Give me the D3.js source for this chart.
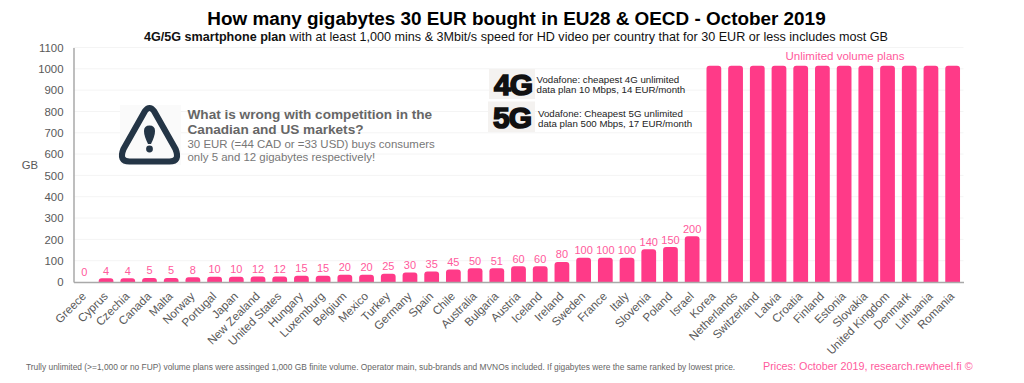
<!DOCTYPE html>
<html>
<head>
<meta charset="utf-8">
<script src="https://cdn.jsdelivr.net/npm/d3@7"></script>
<style>
  html, body { margin: 0; padding: 0; background: #fff; }
  svg { display: block; }
  text { font-family: "Liberation Sans", Arial, sans-serif; }
</style>
</head>
<body>
<div id="chart"></div>
<script>
const countries = ["Greece", "Cyprus", "Czechia", "Canada", "Malta", "Norway", "Portugal", "Japan", "New Zealand",
    "United States", "Hungary", "Luxemburg", "Belgium", "Mexico", "Turkey", "Germany", "Spain", "Chile", "Australia",
    "Bulgaria", "Austria", "Iceland", "Ireland", "Sweden", "France", "Italy", "Slovenia", "Poland", "Israel", "Korea",
    "Netherlands", "Switzerland", "Latvia", "Croatia", "Finland", "Estonia", "Slovakia", "United Kingdom", "Denmark",
    "Lithuania", "Romania"];
const gigabytes = [0, 4, 4, 5, 5, 8, 10, 10, 12, 12, 15, 15, 20, 20, 25, 30, 35, 45, 50, 51, 60, 60, 80, 100, 100, 100,
    140, 150, 200, 1000, 1000, 1000, 1000, 1000, 1000, 1000, 1000, 1000, 1000, 1000, 1000];
const yTicks = [0, 100, 200, 300, 400, 500, 600, 700, 800, 900, 1000, 1100];
const unlimited = 1000;

const pink = "#ff3a88";
const width = 1024, height = 383;
const margin = {top: 47.5, right: 60.5, bottom: 101, left: 73.5};

const svg = d3.select("#chart").append("svg")
    .attr("width", width)
    .attr("height", height);

const x = d3.scaleBand()
    .domain(countries)
    .range([margin.left, width - margin.right])
    .paddingInner(0.32)
    .paddingOuter(0.16);
const y = d3.scaleLinear()
    .domain([0, 1100])
    .range([height - margin.bottom, margin.top]);

// gridlines
svg.append("g").selectAll("line")
    .data(yTicks.filter(d => d > 0))
    .enter().append("line")
    .attr("x1", margin.left)
    .attr("x2", width - margin.right)
    .attr("y1", d => y(d))
    .attr("y2", d => y(d))
    .attr("stroke", "#f4f4f4")
    .attr("stroke-width", 1);

// y axis
const yAxis = svg.append("g")
    .attr("transform", "translate(" + margin.left + ",0)")
    .call(d3.axisLeft(y).tickValues(yTicks).tickSize(0).tickPadding(10).tickFormat(d3.format("d")));
yAxis.select(".domain").attr("stroke", "#a9a9a9").attr("stroke-width", 1.5);
yAxis.selectAll("text")
    .attr("fill", "#595959")
    .style("font-size", "11.4px")
    .style("font-family", '"Liberation Sans", Arial, sans-serif');

svg.append("text")
    .attr("x", 30)
    .attr("y", 169)
    .attr("text-anchor", "middle")
    .attr("fill", "#595959")
    .style("font-size", "11.3px")
    .text("GB");

// bars, tops are rounded and sit a bit over the value like in the original
svg.append("defs").append("clipPath").attr("id", "plot-clip")
    .append("rect")
    .attr("x", margin.left)
    .attr("y", 0)
    .attr("width", width - margin.left - margin.right)
    .attr("height", y(0));

svg.append("g")
    .attr("clip-path", "url(#plot-clip)")
    .selectAll("rect")
    .data(gigabytes.map((v, i) => ({country: countries[i], value: v})).filter(d => d.value > 0))
    .enter().append("rect")
    .attr("x", d => x(d.country))
    .attr("width", x.bandwidth())
    .attr("y", d => y(d.value) - 3)
    .attr("height", d => y(0) - y(d.value) + 8)
    .attr("rx", 3)
    .attr("fill", pink);

// x axis
const xAxis = svg.append("g")
    .attr("transform", "translate(0," + y(0) + ")")
    .call(d3.axisBottom(x).tickSize(0).tickPadding(0));
xAxis.select(".domain").attr("stroke", "#a9a9a9").attr("stroke-width", 1.5);
xAxis.selectAll("text")
    .attr("fill", "#595959")
    .attr("text-anchor", "end")
    .attr("dy", 0)
    .attr("y", 0)
    .attr("transform", "translate(2.5,15) rotate(-45)")
    .style("font-size", "11.6px")
    .style("font-family", '"Liberation Sans", Arial, sans-serif');

// value labels
svg.append("g").selectAll("text")
    .data(gigabytes.map((v, i) => ({country: countries[i], value: v})).filter(d => d.value < unlimited))
    .enter().append("text")
    .attr("x", d => x(d.country) + x.bandwidth() / 2)
    .attr("y", d => y(d.value) - 6.5)
    .attr("text-anchor", "middle")
    .attr("fill", "#ff5a9c")
    .style("font-size", "11px")
    .text(d => d.value);

svg.append("text")
    .attr("x", 845)
    .attr("y", 60)
    .attr("text-anchor", "middle")
    .attr("fill", "#ff5a9c")
    .style("font-size", "11.5px")
    .text("Unlimited volume plans");

// titles
svg.append("text")
    .attr("x", 516.5)
    .attr("y", 25)
    .attr("text-anchor", "middle")
    .attr("fill", "#000")
    .style("font-size", "18.9px")
    .style("font-weight", "bold")
    .text("How many gigabytes 30 EUR bought in EU28 & OECD - October 2019");

const subtitle = svg.append("text")
    .attr("x", 516)
    .attr("y", 41)
    .attr("text-anchor", "middle")
    .attr("fill", "#111")
    .style("font-size", "12.6px");
subtitle.append("tspan").style("font-weight", "bold").text("4G/5G smartphone plan");
subtitle.append("tspan").text(" with at least 1,000 mins & 3Mbit/s speed for HD video per country that for 30 EUR or less includes most GB");

// warning callout
svg.append("rect")
    .attr("x", 120).attr("y", 105).attr("width", 61).attr("height", 60)
    .attr("fill", "#fafafa");
const icon = svg.append("g").attr("transform", "translate(149.5,135)");
icon.append("path")
    .attr("d", "M-4.5,-24 Q0,-30 4.5,-24 L26,14 Q31,26.5 20,26.5 L-20,26.5 Q-31,26.5 -26,14 Z")
    .attr("fill", "none")
    .attr("stroke", "#243546")
    .attr("stroke-width", 6.2)
    .attr("stroke-linejoin", "round");
icon.append("path")
    .attr("d", "M-5.5,-4 Q-5.5,-9.5 0,-9.5 Q5.5,-9.5 5.5,-4 Q5.5,1 1.5,9 L-1.5,9 Q-5.5,1 -5.5,-4 Z")
    .attr("fill", "#243546");
icon.append("circle").attr("cy", 14).attr("r", 3.4).attr("fill", "#243546");

const calloutHead = ["What is wrong with competition in the", "Canadian and US markets?"];
const calloutBody = ["30 EUR (=44 CAD or =33 USD) buys consumers", "only 5 and 12 gigabytes respectively!"];
svg.append("g").selectAll("text")
    .data(calloutHead)
    .enter().append("text")
    .attr("x", 187.5)
    .attr("y", (d, i) => 119 + i * 15)
    .attr("fill", "#666")
    .style("font-size", "13.6px")
    .style("font-weight", "bold")
    .text(d => d);
svg.append("g").selectAll("text")
    .data(calloutBody)
    .enter().append("text")
    .attr("x", 187.5)
    .attr("y", (d, i) => 148 + i * 13.2)
    .attr("fill", "#777")
    .style("font-size", "11.45px")
    .text(d => d);

// 4G and 5G badges
const badges = [
    {label: "4G", boxX: 489, boxY: 69, boxW: 46, boxH: 30, textX: 513, textY: 95,
     lines: ["Vodafone: cheapest 4G unlimited", "data plan 10 Mbps, 14 EUR/month"], noteX: 536.5, noteY: 82.7},
    {label: "5G", boxX: 488, boxY: 101.5, boxW: 47, boxH: 30.5, textX: 512, textY: 128,
     lines: ["Vodafone: Cheapest 5G unlimited", "data plan 500 Mbps, 17 EUR/month"], noteX: 538, noteY: 116.7}
];
badges.forEach(b => {
    svg.append("rect")
        .attr("x", b.boxX).attr("y", b.boxY).attr("width", b.boxW).attr("height", b.boxH)
        .attr("fill", "#f4f2f0");
    svg.append("text")
        .attr("x", b.textX)
        .attr("y", b.textY)
        .attr("text-anchor", "middle")
        .attr("fill", "#111")
        .attr("stroke", "#111")
        .attr("stroke-width", 1.6)
        .style("font-size", "30px")
        .style("font-weight", "bold")
        .style("letter-spacing", "-1px")
        .text(b.label);
    b.lines.forEach((line, i) => {
        svg.append("text")
            .attr("x", b.noteX)
            .attr("y", b.noteY + i * 10.4)
            .attr("fill", "#222")
            .style("font-size", "9.7px")
            .text(line);
    });
});

// footer
svg.append("text")
    .attr("x", 26)
    .attr("y", 370)
    .attr("fill", "#666")
    .style("font-size", "8.4px")
    .text("Trully unlimited (>=1,000 or no FUP) volume plans were assinged 1,000 GB finite volume. Operator main, sub-brands and MVNOs included. If gigabytes were the same ranked by lowest price.");
svg.append("text")
    .attr("x", 763)
    .attr("y", 370)
    .attr("fill", "#ff5a9c")
    .style("font-size", "10.8px")
    .text("Prices: October 2019, research.rewheel.fi  ©");
</script>
</body>
</html>
